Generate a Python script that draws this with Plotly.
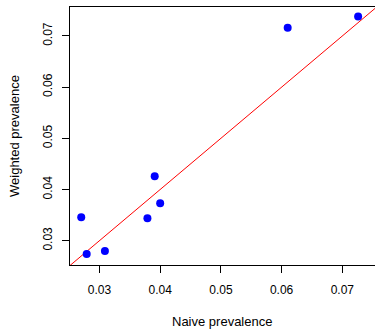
import plotly.graph_objects as go

naive = [0.0270, 0.0279, 0.0309, 0.0379, 0.0391, 0.0400, 0.0610, 0.0726]
weighted = [0.0346, 0.0274, 0.0280, 0.0344, 0.0426, 0.0373, 0.0716, 0.0738]
x_ticks = [0.03, 0.04, 0.05, 0.06, 0.07]
y_ticks = [0.03, 0.04, 0.05, 0.06, 0.07]
x_range = [0.02515, 0.07538]
y_range = [0.02525, 0.07566]

font = dict(family="Liberation Sans, Arial, sans-serif", size=12, color="#000000")
title_font = dict(family="Liberation Sans, Arial, sans-serif", size=13, color="#000000")

fig = go.Figure()
# identity line y = x
ref = [min(x_range[0], y_range[0]), max(x_range[1], y_range[1])]
fig.add_trace(go.Scatter(x=ref, y=ref, mode="lines",
                         line=dict(color="#FF0000", width=1), hoverinfo="skip"))
fig.add_trace(go.Scatter(x=naive, y=weighted, mode="markers",
                         marker=dict(color="#0000FF", size=8, line=dict(width=0))))

fig.update_layout(
    width=375, height=329,
    margin=dict(l=70, r=0, t=7, b=64, autoexpand=False),
    paper_bgcolor="white", plot_bgcolor="white",
    showlegend=False, font=font,
    xaxis=dict(range=x_range, tickvals=x_ticks, ticktext=[f"{v:.2f}" for v in x_ticks],
               showgrid=False, zeroline=False, showline=True, mirror=True,
               linecolor="#000000", linewidth=1, ticks="outside", ticklen=7,
               tickcolor="#000000", tickfont=font, automargin=False,
               ticklabelstandoff=7),
    yaxis=dict(range=y_range, tickvals=y_ticks, ticktext=[f"{v:.2f}" for v in y_ticks],
               showgrid=False, zeroline=False, showline=True, mirror=False,
               linecolor="#000000", linewidth=1, ticks="outside", ticklen=7,
               tickcolor="#000000", tickfont=font, tickangle=-90, automargin=False,
               ticklabelstandoff=5),
    annotations=[
        dict(text="Naive prevalence", xref="paper", yref="paper", x=0.497, y=-(321 - 265) / 258,
             xanchor="center", yanchor="middle", showarrow=False, font=title_font),
        dict(text="Weighted prevalence", xref="paper", yref="paper", x=-(70 - 14) / 305, y=0.5,
             xanchor="center", yanchor="middle", textangle=-90, showarrow=False, font=title_font),
    ],
)

fig.write_html("out.html", config={"displayModeBar": False},
               post_script="document.body.style.margin='0px';document.body.style.overflow='hidden';")
